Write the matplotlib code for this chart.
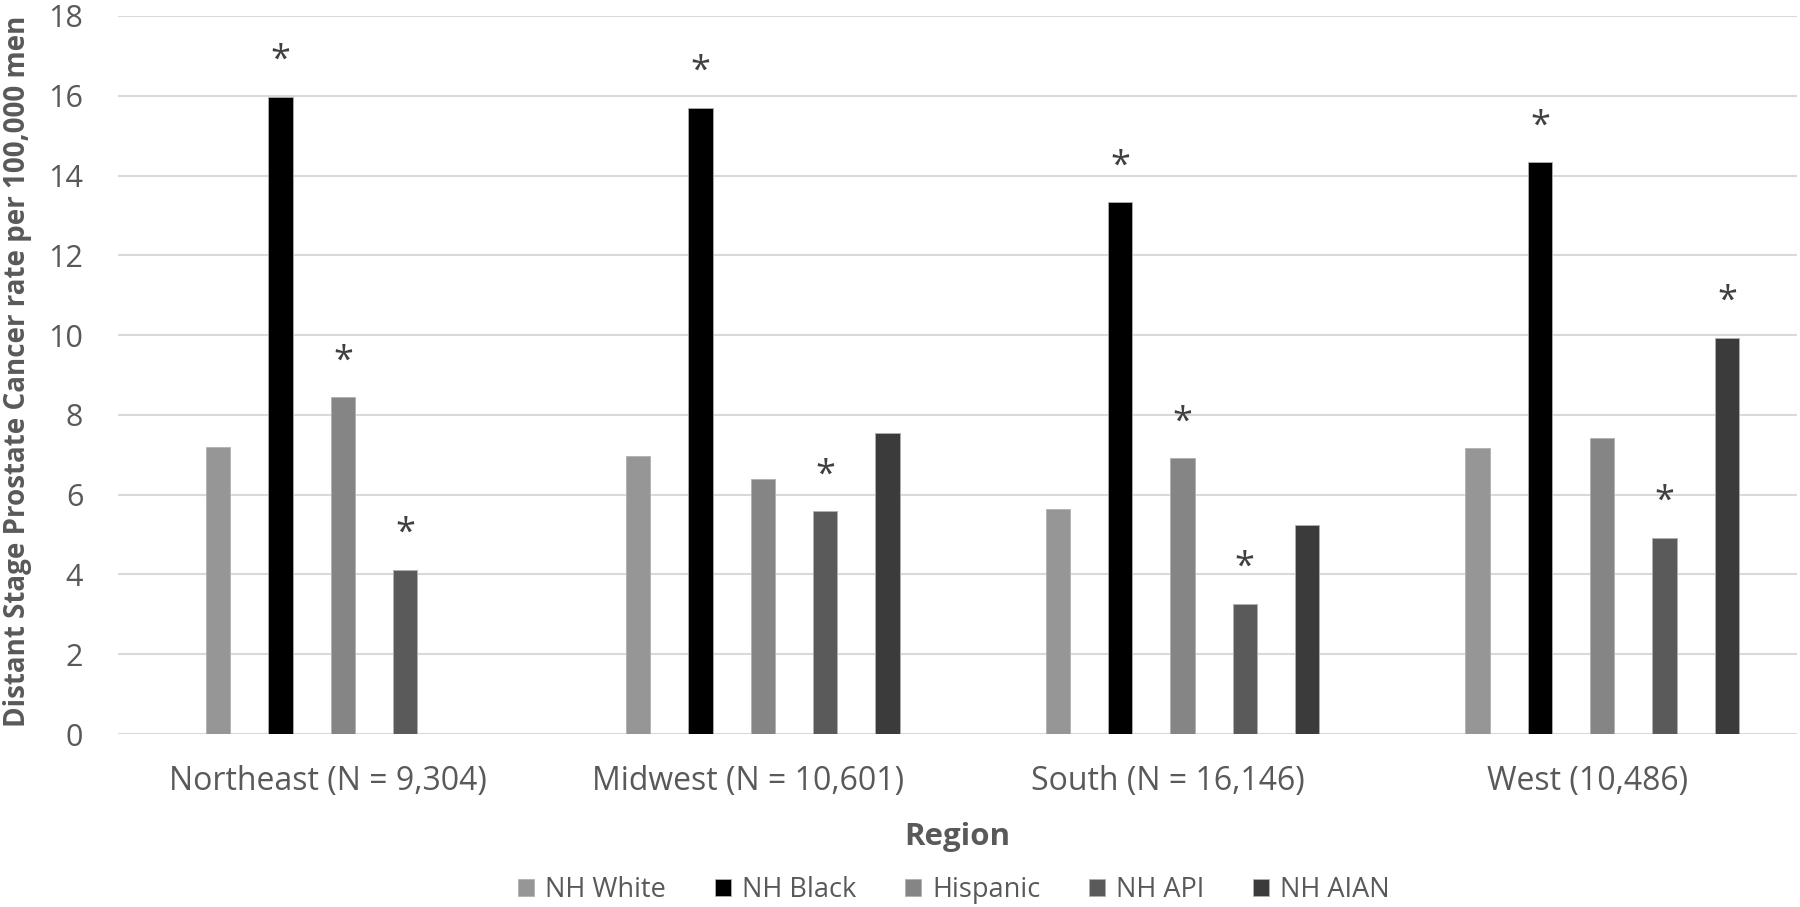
import matplotlib.pyplot as plt
import numpy as np

plt.rcParams["font.family"] = ["Open Sans", "DejaVu Sans"]

regions = ["Northeast (N = 9,304)", "Midwest (N = 10,601)", "South (N = 16,146)", "West (10,486)"]
groups = ["NH White", "NH Black", "Hispanic", "NH API", "NH AIAN"]
colors = ["#969696", "#000000", "#858585", "#5a5a5a", "#3b3b3b"]

nh_white = [7.2, 6.97, 5.65, 7.18]
nh_black = [15.97, 15.7, 13.33, 14.33]
hispanic = [8.44, 6.4, 6.91, 7.43]
nh_api = [4.12, 5.58, 3.26, 4.92]
nh_aian = [np.nan, 7.54, 5.23, 9.93]
series = [nh_white, nh_black, hispanic, nh_api, nh_aian]

# significance flags (asterisk above bar)
sig_white = [False, False, False, False]
sig_black = [True, True, True, True]
sig_hisp = [True, False, True, False]
sig_api = [True, True, True, True]
sig_aian = [False, False, False, True]
sigs = [sig_white, sig_black, sig_hisp, sig_api, sig_aian]

TXT = "#595959"

fig = plt.figure(figsize=(18, 9.07), dpi=100)
ax = fig.add_axes([118 / 1800, 1 - 734 / 907, (1797 - 118) / 1800, (734 - 16) / 907])

x = np.arange(len(regions))
step, width, shift = 0.1485, 0.058, 0.036
for i, (vals, c, flags) in enumerate(zip(series, colors, sigs)):
    pos = x + (i - 2) * step + shift
    ax.bar(pos, vals, width, color=c, edgecolor="#b0b0b0", linewidth=0.6, label=groups[i], zorder=3)
    for p, v, f in zip(pos, vals, flags):
        if f:
            ax.annotate("*", (p, v), xytext=(0, 13), textcoords="offset points",
                        ha="center", va="bottom", fontsize=26, color="#404040")

ax.set_xlim(-0.5, 3.5)
ax.set_ylim(0, 18)
ax.set_yticks(range(0, 19, 2))
ax.yaxis.grid(True, color="#d9d9d9", linewidth=1.5, zorder=0)
ax.set_axisbelow(True)
for s in ax.spines.values():
    s.set_visible(False)
ax.tick_params(length=0, colors=TXT)
ax.tick_params(axis="x", pad=22, labelsize=23)
ax.tick_params(axis="y", pad=25, labelsize=22)
ax.set_xticks(x)
ax.set_xticklabels(regions)

fig.text(957 / 1800, 1 - 837 / 907, "Region", fontsize=22.5, fontweight="bold", color=TXT,
         ha="center", va="center")
fig.text(18 / 1800, 1 - 371 / 907, "Distant Stage Prostate Cancer rate per 100,000 men",
         fontsize=20, fontweight="bold", color=TXT, rotation=90, ha="center", va="center")

fig.legend(loc="center", bbox_to_anchor=(954 / 1800, 1 - 890 / 907), ncol=5, frameon=False,
           fontsize=19.5, handlelength=0.6, handleheight=0.6, handletextpad=0.4,
           columnspacing=1.8, labelcolor=TXT)

fig.savefig("out.png", dpi=100)
